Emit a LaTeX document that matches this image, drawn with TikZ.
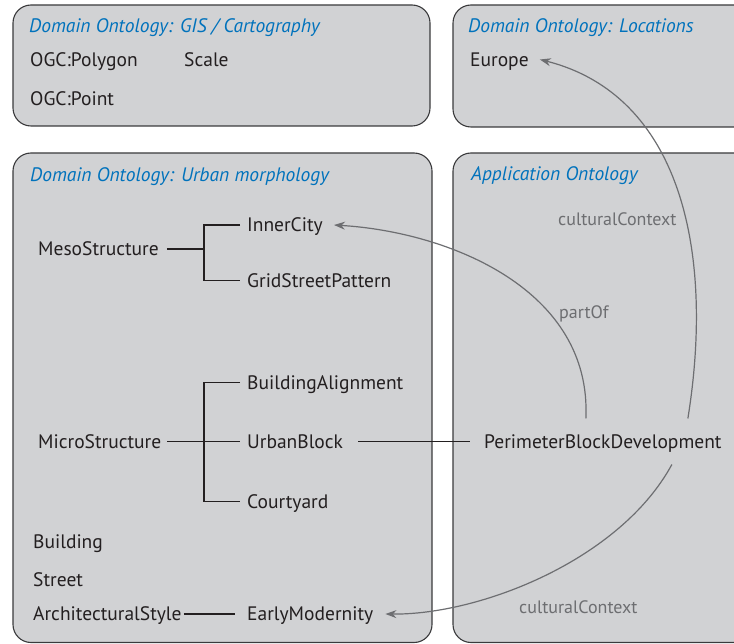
\documentclass[tikz,border=0pt]{standalone}
\usepackage{fontspec}
\setmainfont{PT Sans}
\usetikzlibrary{arrows.meta}
\definecolor{boxfill}{HTML}{D1D2D4}
\definecolor{boxline}{HTML}{3A3A3C}
\definecolor{titleblue}{HTML}{0072BC}
\definecolor{relgray}{HTML}{6D6E71}
\definecolor{ink}{HTML}{231F20}
\begin{document}
\begin{tikzpicture}[x=1pt,y=-1pt,
  panel/.style={draw=boxline, fill=boxfill, line width=1.1pt, rounded corners=18pt},
  ttl/.style={anchor=west, inner sep=0pt, text=titleblue, text height=13.6pt, text depth=0pt,
              font=\fontsize{19.5}{22}\selectfont\itshape},
  cls/.style={anchor=west, inner sep=0pt, text=ink, text height=13.6pt, text depth=0pt,
              font=\fontsize{19.5}{22}\selectfont},
  rel/.style={anchor=west, inner sep=0pt, text=relgray, text height=12.6pt, text depth=0pt,
              font=\fontsize{18}{20}\selectfont},
  tree/.style={draw=ink, line width=1.2pt},
  link/.style={draw=relgray, line width=1.2pt, -{Stealth[length=11pt,width=8pt]}}]

\useasboundingbox (0,0) rectangle (734,644);
\clip (0,0) rectangle (734,644);

% ontology panels
\draw[panel] (13,5) rectangle (430,126);
\draw[panel] (453,5) rectangle (770,127);
\draw[panel] (13,153) rectangle (432,642.5);
\draw[panel] (453,153) rectangle (770,642.5);

% panel titles
\node[ttl] (tgis) at (29,25.5) {Domain Ontology: GIS / Cartography};
\node[ttl] (tloc) at (468,25.5) {Domain Ontology: Locations};
\node[ttl] (turb) at (30,174.5) {Domain Ontology: Urban morphology};
\node[ttl] (tapp) at (471,174) {Application Ontology};

% GIS / cartography classes
\node[cls] (polygon) at (30,59.5) {OGC:Polygon};
\node[cls] (scale) at (184,59.5) {Scale};
\node[cls] (point) at (30,98.5) {OGC:Point};

% locations
\node[cls] (europe) at (470,59.5) {Europe};

% urban morphology classes
\node[cls] (meso) at (38,249) {MesoStructure};
\node[cls] (inner) at (247,225) {InnerCity};
\node[cls] (grid) at (247,280.5) {GridStreetPattern};
\node[cls] (micro) at (38,441.5) {MicroStructure};
\node[cls] (align) at (247,382.5) {BuildingAlignment};
\node[cls] (urban) at (247,441.5) {UrbanBlock};
\node[cls] (court) at (247,501.5) {Courtyard};
\node[cls] (building) at (33,541.5) {Building};
\node[cls] (street) at (33,580) {Street};
\node[cls] (archstyle) at (33,614) {ArchitecturalStyle};
\node[cls] (early) at (247,614) {EarlyModernity};

% application ontology
\node[cls] (pbd) at (484,441.5) {PerimeterBlockDevelopment};

% tree connectors
\coordinate (mesoj) at (204,249);
\coordinate (microj) at (204,441.5);
\draw[tree] ([xshift=8pt]meso.east) -- (mesoj);
\draw[tree] ([xshift=-7pt]inner.west) -| (mesoj) |- ([xshift=-7pt]grid.west);
\draw[tree] ([xshift=6pt]micro.east) -- ([xshift=-7pt]urban.west);
\draw[tree] ([xshift=-7pt]align.west) -| (microj) |- ([xshift=-7pt]court.west);
\draw[tree] ([xshift=15pt]urban.east) -- ([xshift=-14pt]pbd.west);
\draw[tree] ([xshift=2pt]archstyle.east) -- ([xshift=-12pt]early.west);

% relations
\draw[link] ([xshift=-17pt,yshift=16pt]pbd.north)
  .. controls (592,290) and (450,232) .. ([xshift=11pt]inner.east);
\draw[link] ([xshift=85pt,yshift=16pt]pbd.north)
  .. controls (715,250) and (680,95) .. ([xshift=11pt]europe.east);
\draw[link] ([xshift=69pt,yshift=-16pt]pbd.south)
  .. controls (620,560) and (480,615) .. ([xshift=12pt]early.east);

% relation labels
\node[rel] (lblpart) at (559,312) {partOf};
\node[rel] (lblctxa) at (558,219.5) {culturalContext};
\node[rel] (lblctxb) at (519,607.5) {culturalContext};
\end{tikzpicture}
\end{document}
